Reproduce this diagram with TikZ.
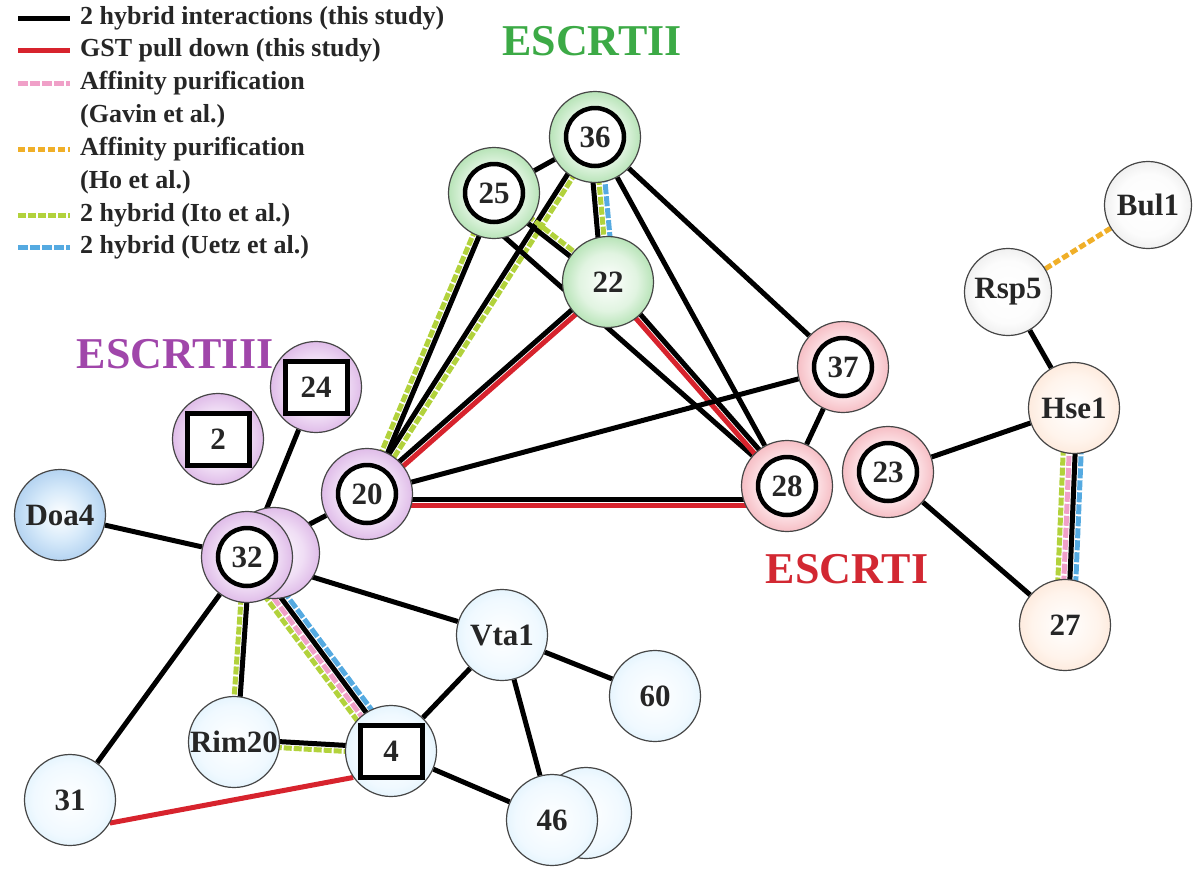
\documentclass[tikz,border=0pt]{standalone}
\usepackage{fontspec}
\setmainfont{Liberation Serif}
\usetikzlibrary{calc,backgrounds}

\definecolor{gIn}{RGB}{225,244,225}\definecolor{gMid}{RGB}{125,205,125}\definecolor{gOut}{RGB}{70,160,75}
\definecolor{pIn}{RGB}{240,222,245}\definecolor{pMid}{RGB}{200,140,215}\definecolor{pOut}{RGB}{150,80,170}
\definecolor{rIn}{RGB}{252,226,230}\definecolor{rMid}{RGB}{238,140,150}\definecolor{rOut}{RGB}{210,80,95}
\definecolor{bIn}{RGB}{240,249,255}\definecolor{bMid}{RGB}{200,232,248}\definecolor{bOut}{RGB}{140,195,228}
\definecolor{dIn}{RGB}{215,234,250}\definecolor{dMid}{RGB}{140,185,230}\definecolor{dOut}{RGB}{75,135,200}
\definecolor{yIn}{RGB}{252,252,252}\definecolor{yMid}{RGB}{215,215,215}\definecolor{yOut}{RGB}{160,160,160}
\definecolor{oIn}{RGB}{255,244,236}\definecolor{oMid}{RGB}{250,215,192}\definecolor{oOut}{RGB}{230,170,140}
\definecolor{gstC}{RGB}{215,35,45}
\definecolor{gavC}{RGB}{240,160,200}
\definecolor{hoC}{RGB}{240,175,40}
\definecolor{itoC}{RGB}{178,210,60}
\definecolor{uetzC}{RGB}{85,170,225}
\definecolor{escII}{RGB}{60,170,70}
\definecolor{escIII}{RGB}{160,70,170}
\definecolor{escI}{RGB}{210,40,50}
\definecolor{rimC}{RGB}{70,70,70}

\pgfdeclareradialshading{shG}{\pgfpointorigin}{color(0bp)=(white); color(16bp)=(gIn); color(38bp)=(gMid); color(50bp)=(gOut)}
\pgfdeclareradialshading{shP}{\pgfpointorigin}{color(0bp)=(white); color(16bp)=(pIn); color(38bp)=(pMid); color(50bp)=(pOut)}
\pgfdeclareradialshading{shR}{\pgfpointorigin}{color(0bp)=(white); color(16bp)=(rIn); color(38bp)=(rMid); color(50bp)=(rOut)}
\pgfdeclareradialshading{shB}{\pgfpointorigin}{color(0bp)=(white); color(20bp)=(bIn); color(40bp)=(bMid); color(50bp)=(bOut)}
\pgfdeclareradialshading{shD}{\pgfpointorigin}{color(0bp)=(white); color(14bp)=(dIn); color(38bp)=(dMid); color(50bp)=(dOut)}
\pgfdeclareradialshading{shY}{\pgfpointorigin}{color(0bp)=(white); color(18bp)=(yIn); color(40bp)=(yMid); color(50bp)=(yOut)}
\pgfdeclareradialshading{shO}{\pgfpointorigin}{color(0bp)=(white); color(18bp)=(oIn); color(40bp)=(oMid); color(50bp)=(oOut)}

\tikzset{
  base/.style={circle, minimum size=91pt, inner sep=0pt, draw=rimC, line width=1.2pt,
    font=\bfseries\fontsize{31}{31}\selectfont, text=black!85},
  gnode/.style={base, shading=shG},
  pnode/.style={base, shading=shP},
  rnode/.style={base, shading=shR},
  bnode/.style={base, shading=shB},
  dbnode/.style={base, shading=shD},
  ynode/.style={base, shading=shY},
  onode/.style={base, shading=shO},
  ringed/.style={path picture={\draw[black, line width=4.5pt, fill=#1]
      (path picture bounding box.center) circle[radius=29pt];}},
  boxed/.style={path picture={\draw[black, line width=5pt, fill=white]
      ($(path picture bounding box.center)+(-31pt,-26pt)$) rectangle
      ($(path picture bounding box.center)+(31pt,26pt)$);}},
  blk/.style={line width=5pt, draw=black},
  gst/.style={line width=5pt, draw=gstC},
  ito/.style={line width=5pt, draw=itoC, dash pattern=on 8pt off 2pt},
  uetz/.style={line width=5pt, draw=uetzC, dash pattern=on 10pt off 2pt},
  gav/.style={line width=5pt, draw=gavC, dash pattern=on 10pt off 2pt},
  hoaff/.style={line width=5pt, draw=hoC, dash pattern=on 7pt off 3pt},
  grp/.style={font=\bfseries\fontsize{44}{44}\selectfont},
  leg/.style={anchor=west, font=\bfseries\fontsize{26}{26}\selectfont, text=black!85, inner sep=0pt},
}
\newcommand{\offedge}[4]{\draw[#1] ($(#2)!#4!90:(#3)$) -- ($(#3)!#4!-90:(#2)$);}

\begin{document}
\begin{tikzpicture}[x=1pt,y=-1pt]
\useasboundingbox (0,0) rectangle (1195,879);

% legend
\draw[blk] (18,18) -- (70,18);   \node[leg] (l1) at (80,18) {2 hybrid interactions (this study)};
\draw[gst] (18,50) -- (70,50);   \node[leg] (l2) at (80,50) {GST pull down (this study)};
\draw[gav] (18,83) -- (70,83);   \node[leg] (l3) at (80,83) {Affinity purification};
                                 \node[leg] (l4) at (80,116) {(Gavin et al.)};
\draw[hoaff] (18,149) -- (70,149); \node[leg] (l5) at (80,149) {Affinity purification};
                                 \node[leg] (l6) at (80,182) {(Ho et al.)};
\draw[ito] (18,215) -- (70,215); \node[leg] (l7) at (80,215) {2 hybrid (Ito et al.)};
\draw[uetz] (18,247) -- (70,247); \node[leg] (l8) at (80,247) {2 hybrid (Uetz et al.)};

% group labels
\node[grp, text=escII] (gII) at (592,41) {ESCRTII};
\node[grp, text=escIII] (gIII) at (175,354) {ESCRTIII};
\node[grp, text=escI] (gI) at (847,569) {ESCRTI};

% ESCRTII
\node[gnode, ringed=white] (n36) at (595,137) {36};
\node[gnode, ringed=white] (n25) at (494,193) {25};
\node[gnode] (n22) at (608,282) {22};
% ESCRTI
\node[rnode, ringed=white] (n37) at (843,367) {37};
\node[rnode, ringed=white] (n28) at (787,486) {28};
\node[rnode, ringed=white] (n23) at (888,472) {23};
% ESCRTIII
\node[pnode, ringed=white] (n20) at (367,494) {20};
\node[pnode, boxed] (n24) at (316,387) {24};
\node[pnode, boxed] (n2) at (218,439) {2};
\node[pnode] (n32b) at (274,553) {};
\node[pnode, ringed=white] (n32) at (247,557) {32};
% others
\node[dbnode] (doa4) at (60,515) {Doa4};
\node[bnode] (vta1) at (502,635) {Vta1};
\node[bnode] (n60) at (655,696) {60};
\node[bnode] (n46b) at (586,813) {};
\node[bnode] (n46) at (552,820) {46};
\node[bnode, boxed] (n4) at (391,751) {4};
\node[bnode] (rim20) at (234,742) {Rim20};
\node[bnode] (n31) at (70,800) {31};
\node[ynode, minimum size=87pt] (rsp5) at (1008,292) {Rsp5};
\node[ynode, minimum size=87pt] (bul1) at (1148,205) {Bul1};
\node[onode] (hse1) at (1074,408) {Hse1};
\node[onode] (n27) at (1065,625) {27};

\begin{scope}[on background layer]
\draw[blk] (n25) -- (n36);
\offedge{ito}{n25}{n20}{-3pt}
\offedge{blk}{n25}{n20}{3pt}
\offedge{blk}{n36}{n20}{-3pt}
\offedge{ito}{n36}{n20}{3pt}
\offedge{blk}{n22}{n20}{-3pt}
\offedge{gst}{n22}{n20}{3pt}
\offedge{blk}{n36}{n22}{-6pt}
\offedge{ito}{n36}{n22}{0pt}
\offedge{uetz}{n36}{n22}{6pt}
\offedge{ito}{n25}{n22}{3pt}
\offedge{blk}{n25}{n22}{-3pt}
\draw[blk] ($(n25.center)+(-2,33)$) -- (n28);
\offedge{gst}{n22}{n28}{-3pt}
\offedge{blk}{n22}{n28}{3pt}
\draw[blk] (n36) -- (n28);
\draw[blk] (n36) -- (n37);
\draw[blk] (n20) -- (n37);
\draw[blk] ($(n20.center)+(0,5)$) -- ($(n28.center)+(0,13)$);
\draw[gst] ($(n20.center)+(0,11)$) -- ($(n28.center)+(0,19)$);
\draw[blk] (n37) -- (n28);
\draw[blk] (n20) -- (n32);
\draw[blk] (n24) -- (n32);
\draw[blk] (doa4) -- (n32);
\draw[blk] (n32) -- (vta1);
\draw[blk] (n32) -- (n31);
\offedge{ito}{n32}{rim20}{-3pt}
\offedge{blk}{n32}{rim20}{3pt}
\offedge{ito}{n32}{n4}{-9pt}
\offedge{gav}{n32}{n4}{-3pt}
\offedge{blk}{n32}{n4}{3pt}
\offedge{uetz}{n32}{n4}{9pt}
\offedge{blk}{rim20}{n4}{3pt}
\offedge{ito}{rim20}{n4}{-3pt}
\draw[gst] (n31.-30) -- (n4.215);
\draw[blk] (n4) -- (vta1);
\draw[blk] (n4) -- (n46);
\draw[blk] (vta1) -- (n46);
\draw[blk] (vta1) -- (n60);
\draw[blk] (n23) -- (hse1);
\draw[blk] (n23) -- (n27);
\draw[blk] (rsp5) -- (hse1);
\draw[hoaff] (rsp5) -- (bul1);
\offedge{ito}{hse1}{n27}{-9pt}
\offedge{gav}{hse1}{n27}{-3pt}
\offedge{blk}{hse1}{n27}{3pt}
\offedge{uetz}{hse1}{n27}{9pt}
\end{scope}
\end{tikzpicture}
\end{document}
